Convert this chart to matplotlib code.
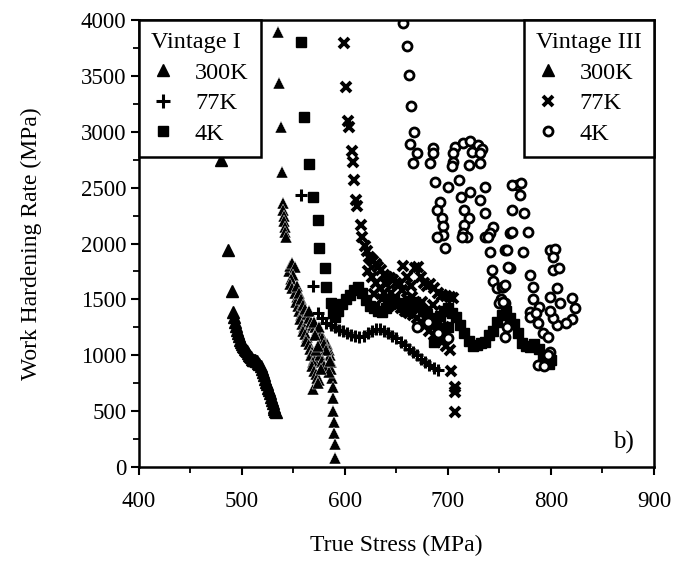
import matplotlib.pyplot as plt
from matplotlib.lines import Line2D
from matplotlib.ticker import MultipleLocator

plt.rcParams['font.family'] = ['Liberation Serif', 'DejaVu Serif']

# Vintage I, 300K (triangles)
v1_300k_x = [480, 486, 490, 491, 492, 493, 494, 495, 496, 497, 498, 499, 500, 501, 502, 503, 504, 505,
             506, 507, 508, 509, 510, 511, 512, 513, 514, 515, 516, 517, 518, 519, 520, 521, 522, 523,
             524, 525, 526, 527, 528, 529, 530, 531, 531, 532, 533]
v1_300k_y = [2750, 1940, 1575, 1390, 1340, 1300, 1260, 1230, 1200, 1170, 1140, 1120, 1100, 1080, 1070,
             1060, 1050, 1040, 1020, 1000, 990, 980, 970, 960, 960, 955, 950, 945, 930, 920, 900, 880,
             850, 820, 790, 760, 740, 710, 690, 660, 630, 600, 570, 540, 520, 500, 490]

# Vintage III, 300K (triangles)
v3_300k_x = [535, 536, 538, 539, 540, 540, 541, 541, 542, 542, 543,
             546, 547, 549, 551, 550, 548, 547, 549, 551, 553, 552, 554, 555, 557, 556, 558, 560, 559,
             561, 563, 562, 565, 566, 568, 567, 570, 569, 568, 570, 572, 569, 573, 575, 574,
             553, 555, 557, 559, 561, 563, 565, 567, 569, 571, 573, 575, 577, 579, 581, 583, 584, 585,
             586, 586, 587, 588, 588, 588, 589, 589, 590, 590,
             565, 570, 575, 578, 580, 582, 576, 572, 578, 580, 584, 585, 571, 574, 577]
v3_300k_y = [3890, 3440, 3040, 2640, 2360, 2300, 2250, 2200, 2150, 2100, 2060,
             1750, 1800, 1830, 1790, 1720, 1680, 1640, 1600, 1560, 1520, 1480, 1440, 1400, 1360, 1320,
             1280, 1250, 1220, 1190, 1160, 1130, 1100, 1060, 1030, 1000, 970, 940, 900, 860, 830, 700,
             800, 780, 750,
             1620, 1560, 1500, 1450, 1410, 1370, 1330, 1300, 1270, 1250, 1230, 1210, 1180, 1150, 1120,
             1100, 1050, 1000, 940, 880, 800, 720, 620, 500, 400, 300, 210, 80,
             1400, 1300, 1250, 1150, 1100, 1050, 1000, 1050, 950, 900, 850, 950, 1180, 1080, 880]

# Vintage I, 77K (plus)
v1_77k_x = [557, 569, 574, 578, 582, 586, 590, 594, 598, 602, 606, 610, 614, 618, 622, 626, 630, 634,
            638, 642, 646, 650, 654, 658, 662, 666, 670, 674, 678, 682, 686, 690]
v1_77k_y = [2430, 1620, 1380, 1330, 1290, 1270, 1250, 1230, 1215, 1200, 1185, 1170, 1160, 1175, 1200,
            1220, 1235, 1235, 1220, 1195, 1175, 1150, 1120, 1090, 1060, 1030, 1000, 970, 940, 915,
            890, 870]

# Vintage I, 4K (squares)
v1_4k_x = [557, 560, 565, 569, 574, 575, 581, 582, 586, 588, 590, 593, 597, 601, 605, 609, 613, 617,
           620, 624, 628, 632, 636, 640, 644, 648, 652, 656, 660, 664, 668, 672, 676, 680, 684, 688,
           692, 696, 700, 704, 708, 712, 716, 720, 724, 728, 732, 736, 740, 744, 748, 752, 756, 760,
           764, 768, 772, 776, 780, 784, 788, 792, 795, 798, 800, 690, 700, 686, 696]
v1_4k_y = [3800, 3130, 2710, 2420, 2210, 1960, 1780, 1610, 1470, 1380, 1340, 1400, 1460, 1500, 1540,
           1580, 1610, 1560, 1490, 1440, 1420, 1400, 1390, 1420, 1460, 1500, 1470, 1430, 1400, 1440,
           1480, 1450, 1400, 1360, 1330, 1300, 1350, 1400, 1420, 1380, 1340, 1270, 1200, 1130, 1080,
           1090, 1110, 1120, 1180, 1220, 1300, 1360, 1400, 1330, 1280, 1200, 1110, 1080, 1070, 1100,
           1060, 1000, 950, 920, 960, 1200, 1250, 1120, 1150]

# Vintage III, 77K (crosses)
v3_77k_x = [599, 601, 603, 604, 607, 608, 609, 611, 612, 616, 617, 619, 621, 623, 625, 627, 630, 632,
            635, 638, 641, 644, 647, 650, 653, 656, 660, 664, 668, 671, 674, 677, 680, 683, 686, 690,
            694, 698, 702, 705,
            622, 626, 630, 634, 638, 642, 646, 650, 654, 658, 662, 666, 670, 674, 678, 682, 686, 690,
            694, 698, 702, 703, 707, 707, 707,
            628, 636, 645, 655, 665, 675, 685, 695, 640, 660, 680, 690, 696]
v3_77k_y = [3790, 3400, 3100, 3040, 2830, 2730, 2570, 2390, 2340, 2170, 2060, 1980, 1930, 1880, 1860,
            1840, 1820, 1790, 1760, 1720, 1700, 1690, 1670, 1650, 1640, 1800, 1700, 1620, 1780, 1790,
            1700, 1650, 1620, 1640, 1600, 1560, 1540, 1530, 1520, 1510,
            1750, 1700, 1650, 1600, 1560, 1520, 1480, 1440, 1420, 1400, 1380, 1360, 1330, 1300, 1260,
            1220, 1180, 1150, 1120, 1080, 1050, 860, 720, 670, 490,
            1550, 1500, 1560, 1580, 1520, 1480, 1450, 1400, 1640, 1500, 1380, 1300, 1250]

# Vintage III, 4K (open circles)
v3_4k_x = [656, 660, 662, 664, 667, 663, 670, 666, 685, 685, 683, 687, 700, 692, 689, 694, 695, 695,
           689, 697, 707, 715, 721, 729, 733, 705, 705, 704, 723, 731, 720, 731, 711, 721, 713, 731,
           736, 736, 716, 720, 716, 715, 744, 741, 718, 736, 741, 743, 744, 748, 752, 751, 755, 757,
           755, 755, 760, 762, 767, 762, 760, 771, 770, 774, 762, 778, 773, 780, 783, 783, 780, 788,
           787, 792, 797, 799, 787, 799, 804, 802, 802, 808, 799, 806, 809, 820, 823, 820, 815, 806,
           802, 799, 780, 785, 753, 750, 714, 739, 757, 758, 755, 753, 681, 690, 700, 670, 793, 797]
v3_4k_y = [3970, 3770, 3510, 3230, 3000, 2890, 2810, 2720, 2855, 2810, 2720, 2550, 2510, 2370, 2300,
           2230, 2160, 2080, 2060, 1960, 2860, 2900, 2920, 2880, 2850, 2810, 2730, 2690, 2820, 2810,
           2700, 2720, 2570, 2460, 2420, 2390, 2510, 2270, 2300, 2230, 2170, 2090, 2150, 2090, 2060,
           2060, 1920, 1760, 1660, 1600, 1610, 1500, 1470, 1250, 1160, 1940, 2090, 2300, 2520, 2520,
           1780, 2540, 2430, 2270, 2100, 2100, 1920, 1720, 1610, 1500, 1390, 1430, 1290, 1200, 1160,
           1030, 910, 1940, 1950, 1880, 1760, 1780, 1520, 1600, 1470, 1510, 1420, 1320, 1290, 1270,
           1330, 1400, 1340, 1380, 1610, 1470, 2060, 2060, 1940, 1790, 1630, 1480, 1300, 1200, 1150,
           1250, 900, 1000]

x_ticks = [400, 500, 600, 700, 800, 900]
y_ticks = [0, 500, 1000, 1500, 2000, 2500, 3000, 3500, 4000]

fig = plt.figure(figsize=(6.84, 5.64), dpi=100)
ax = fig.add_axes([0.2032, 0.172, 0.7529, 0.7925])

ax.plot(v1_300k_x, v1_300k_y, marker='^', ms=8.5, color='black', linestyle='none')
ax.plot(v3_300k_x, v3_300k_y, marker='^', ms=8.5, color='black', linestyle='none',
        mec='white', mew=0.3)
ax.plot(v1_77k_x, v1_77k_y, marker='+', ms=9, mew=2.2, color='black', linestyle='none')
ax.plot(v1_4k_x, v1_4k_y, marker='s', ms=7, color='black', linestyle='none')
ax.plot(v3_77k_x, v3_77k_y, marker='x', ms=6.5, mew=2.8, color='black', linestyle='none')
ax.plot(v3_4k_x, v3_4k_y, marker='o', ms=6.5, mew=2, mfc='white', mec='black', linestyle='none')

ax.set_xlim(400, 900)
ax.set_ylim(0, 4000)
ax.set_xticks(x_ticks)
ax.set_yticks(y_ticks)
ax.xaxis.set_minor_locator(MultipleLocator(50))
ax.yaxis.set_minor_locator(MultipleLocator(250))
ax.tick_params(which='major', direction='out', length=6, width=1.5, labelsize=16.5)
ax.tick_params(which='minor', direction='out', length=4, width=1.3)
ax.tick_params(axis='x', which='major', pad=11)
ax.tick_params(axis='y', which='major', pad=3)
for s in ax.spines.values():
    s.set_linewidth(1.8)

ax.set_xlabel('True Stress (MPa)', fontsize=17, labelpad=17)
ax.set_ylabel('Work Hardening Rate (MPa)', fontsize=17, labelpad=28)

ax.text(870, 220, 'b)', fontsize=18, ha='center', va='center')

h1 = [Line2D([], [], marker='^', ms=8.5, color='black', linestyle='none'),
      Line2D([], [], marker='+', ms=10, mew=2.2, color='black', linestyle='none'),
      Line2D([], [], marker='s', ms=7, color='black', linestyle='none')]
h3 = [Line2D([], [], marker='^', ms=8.5, color='black', linestyle='none'),
      Line2D([], [], marker='x', ms=6.5, mew=2.8, color='black', linestyle='none'),
      Line2D([], [], marker='o', ms=6.5, mew=2, mfc='white', mec='black', linestyle='none')]
labels = ['300K', '77K', '4K']

leg_kw = dict(fontsize=17.5, title_fontsize=17.5, frameon=True, fancybox=False, framealpha=1,
              edgecolor='black', borderaxespad=0, handlelength=1.0, handletextpad=0.8,
              labelspacing=0.35, borderpad=0.5)
leg1 = ax.legend(h1, labels, title='Vintage I', loc='upper left', **leg_kw)
leg1.get_frame().set_linewidth(1.8)
leg1._legend_box.align = 'left'
ax.add_artist(leg1)
leg3 = ax.legend(h3, labels, title='Vintage III', loc='upper right', **leg_kw)
leg3.get_frame().set_linewidth(1.8)
leg3._legend_box.align = 'left'

fig.savefig('out.png', dpi=100)
